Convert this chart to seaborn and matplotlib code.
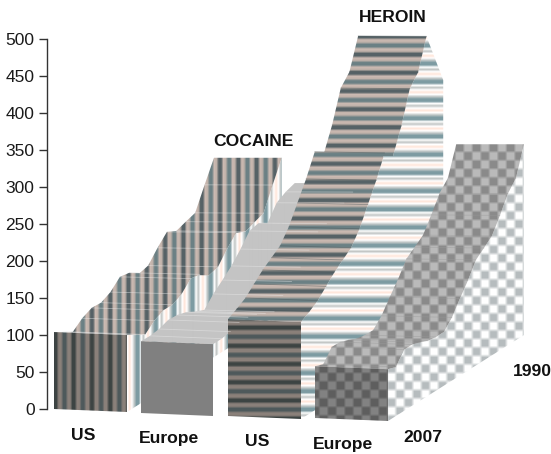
import numpy as np
import matplotlib
matplotlib.use('Agg')
import matplotlib.pyplot as plt
from matplotlib.path import Path
import seaborn as sns

# yearly values, 2007 at the front going back to 1990
years = list(range(2007, 1989, -1))
cocaine_us = [104, 96.5, 89, 100, 106.5, 106, 113, 126.5, 124.5, 115, 119, 136.5, 151.5, 145, 150.5, 155.5, 188.5, 220.5]
cocaine_eu = [97, 97, 99, 104, 103.5, 100, 93.5, 88, 103, 115, 127.5, 144, 162.5, 166.5, 159, 181, 189.5, 195]
heroin_us = [131, 138, 146, 158.5, 171, 181, 191, 210.5, 237.5, 265, 297, 286, 322.5, 369.5, 387, 433, 395, 356.5]
heroin_eu = [70, 66, 82.5, 82.5, 78.5, 73.5, 71.5, 71.5, 84.5, 104, 122.5, 144.5, 154.5, 165, 187.5, 212.5, 228, 271]
y_ticks = [0, 50, 100, 150, 200, 250, 300, 350, 400, 450, 500]

W, H = 551, 454
PX_PER_UNIT = 0.74
Y_ZERO = 409
TILT = 3


def val(py):
    # pixel row to value on the y axis
    return (Y_ZERO - py) / PX_PER_UNIT


def project(fx, fy, v, i):
    d = i / 17
    dx = 160 - 0.072 * (fx - 54)
    x = fx + d * dx
    floor = fy - 0.632 * dx * d
    return x, val(floor) + v * (1 - 0.08 * d)


def stripes(kind, tones, period, phase):
    rgb = np.array([matplotlib.colors.to_rgb(t) for t in tones])
    n = len(tones)
    t = np.arange(W if kind == 'v' else H) + 0.5
    pos = ((t - phase) / period) % 1 * n
    lo = np.floor(pos).astype(int) % n
    hi = (lo + 1) % n
    f = (pos - np.floor(pos))[:, None]
    band = rgb[lo] * (1 - f) + rgb[hi] * f
    if kind == 'v':
        return np.tile(band[None, :, :], (H, 1, 1))
    return np.tile(band[:, None, :], (1, W, 1))


def checks(dark, light, cell, phase_x, phase_y, soft):
    a, b = np.array(matplotlib.colors.to_rgb(dark)), np.array(matplotlib.colors.to_rgb(light))
    sx = np.clip(np.sin(np.pi * (np.arange(W) + 0.5 - phase_x) / cell) * soft, -1, 1)
    sy = np.clip(np.sin(np.pi * (np.arange(H) + 0.5 - phase_y) / cell) * soft, -1, 1)
    m = ((np.outer(sy, sx) + 1) / 2)[:, :, None]
    return a * m + b * (1 - m)


def fill(ax, polys, img):
    verts, codes = [], []
    for p in polys:
        verts += list(p) + [p[0]]
        codes += [Path.MOVETO] + [Path.LINETO] * (len(p) - 1) + [Path.CLOSEPOLY]
    im = ax.imshow(img, extent=(0, W, val(H), val(0)), aspect='auto', interpolation='nearest', zorder=2)
    im.set_clip_path(Path(verts, codes), transform=ax.transData)


def ribbon(ax, x0, y0, values, front, top, side, line_color, width=73):
    x1 = x0 + width
    y1 = y0 + TILT
    L = [project(x0, y0, v, i) for i, v in enumerate(values)]
    FL = [project(x0, y0, 0, i) for i in range(18)]
    FR = [project(x1, y1, 0, i) for i in range(18)]
    # right edge of the top keeps level with the left one, tilt dies out towards the back
    R = [(FR[i][0], L[i][1] - TILT * (1 - i / 17) / PX_PER_UNIT) for i in range(18)]

    if side is not None:
        fill(ax, [(FR[i], R[i], R[i + 1], FR[i + 1]) for i in range(17)], side)

    # top panels that lean away from the viewer are hidden
    quads = [(L[i], R[i], R[i + 1], L[i + 1]) for i in range(17) if L[i + 1][1] >= L[i][1]]
    fill(ax, quads, top)
    for i in range(1, 17):
        if L[i][1] >= L[i - 1][1]:
            ax.plot([L[i][0], R[i][0]], [L[i][1], R[i][1]], color=line_color, lw=0.6, alpha=0.45, zorder=3)

    fill(ax, [(FL[0], L[0], R[0], FR[0])], front)


sns.set_theme(style='white')
plt.rcParams['font.family'] = ['Liberation Sans', 'DejaVu Sans']

fig = plt.figure(figsize=(W / 100, H / 100), dpi=100)
ax = fig.add_axes([0, 0, 1, 1])
ax.set_xlim(0, W)
ax.set_ylim(val(H), val(0))

# stripes and checks sit on the screen, they do not follow the surfaces
tones_front = ['#3d4443', '#3d4443', '#8a807a', '#8a807a', '#4e595b', '#4e595b', '#8a807a', '#8a807a']
tones_top = ['#566266', '#566266', '#ccbab2', '#c0b2aa', '#6b8084', '#6b8084', '#ccbab2', '#c0b2aa']
tones_side = ['#ffffff', '#ffe6da', '#ffffff', '#bfc6c6', '#7d9ba2', '#7d9ba2', '#ffffff', '#c2c6c5']

p, ph = 18.3, 54.2
ribbon(ax, 54, 409, cocaine_us,
       stripes('v', tones_front, p, ph), stripes('v', tones_top, p, ph), stripes('v', tones_side, p, ph), '#f0f0f0')
ribbon(ax, 141, 413, cocaine_eu,
       stripes('v', ['#808080'] * 2, p, ph), stripes('v', ['#c4c4c4'] * 2, p, ph), None, '#ececec', width=72)
p, ph = 18.2, 326.5
ribbon(ax, 228, 416, heroin_us,
       stripes('h', tones_front, p, ph), stripes('h', tones_top, p, ph), stripes('h', tones_side, p, ph), '#4a5558')
cell, px, py = 8.5, 378.8, 372.8
ribbon(ax, 315, 418, heroin_eu,
       checks('#5e5e5e', '#828282', cell, px, py, 2.2), checks('#8a8a8a', '#bababa', cell, px, py, 2.2),
       checks('#b6bcbe', '#ffffff', cell, px, py, 1.8), '#9a9a9a')

sns.despine(ax=ax, bottom=True)
ax.spines['left'].set_position(('data', 47))
ax.spines['left'].set_bounds(0, 500)
ax.spines['left'].set_color('#333333')
ax.spines['left'].set_linewidth(1.0)
ax.set_xticks([])
ax.set_yticks(y_ticks)
ax.tick_params(axis='y', left=True, length=6, width=1, color='#333333', labelsize=12.5, labelcolor='#1a1a1a', pad=3)
ax.patch.set_alpha(0)

labels = [('US', 83, 435), ('Europe', 169, 439), ('US', 257, 442), ('Europe', 343, 445),
          ('2007', 423, 438), ('1990', 532, 372), ('COCAINE', 253, 141), ('HEROIN', 393, 17)]
for txt, lx, ly in labels:
    ax.text(lx, val(ly), txt, ha='center', va='center', fontsize=12.6, fontweight='bold', color='#111111', zorder=5)

fig.savefig('out.png', dpi=100)
